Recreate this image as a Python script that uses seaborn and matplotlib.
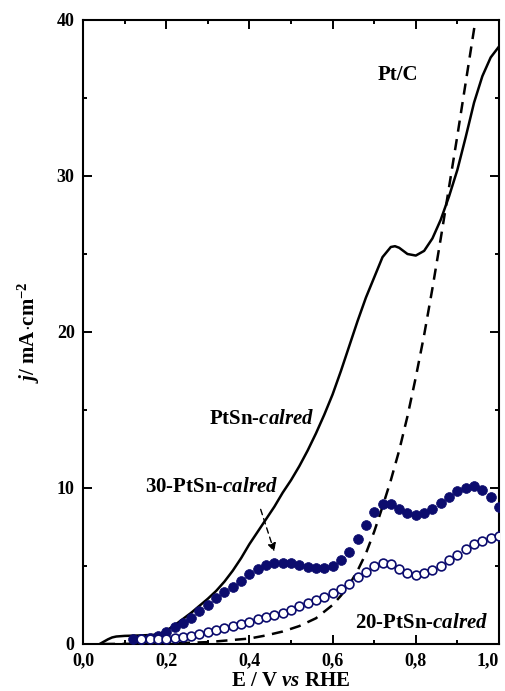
import matplotlib
matplotlib.use("Agg")
import matplotlib.pyplot as plt
from matplotlib.ticker import MultipleLocator, FuncFormatter
import seaborn as sns

# ---- data ----
E_ptsn = [0.04, 0.05, 0.06, 0.07, 0.08, 0.10, 0.14, 0.18, 0.20, 0.22, 0.24, 0.26, 0.28,
          0.30, 0.32, 0.34, 0.36, 0.38, 0.40, 0.42, 0.44, 0.46, 0.48, 0.50, 0.52, 0.54,
          0.56, 0.58, 0.60, 0.62, 0.64, 0.66, 0.68, 0.70, 0.72, 0.74, 0.75, 0.76, 0.78,
          0.80, 0.82, 0.84, 0.86, 0.88, 0.90, 0.92, 0.94, 0.96, 0.98, 1.00]
j_ptsn = [0.0, 0.15, 0.3, 0.42, 0.48, 0.52, 0.55, 0.6, 0.85, 1.2, 1.6, 2.0, 2.45,
          2.9, 3.4, 4.0, 4.7, 5.5, 6.4, 7.2, 8.0, 8.8, 9.7, 10.5, 11.4, 12.4,
          13.5, 14.7, 16.0, 17.5, 19.1, 20.7, 22.2, 23.5, 24.8, 25.45, 25.5, 25.4, 25.0,
          24.9, 25.2, 26.0, 27.2, 28.7, 30.4, 32.5, 34.7, 36.4, 37.6, 38.3]

E_ptc = [0.05, 0.20, 0.30, 0.40, 0.44, 0.48, 0.52, 0.56, 0.60, 0.62, 0.64, 0.66, 0.68,
         0.70, 0.72, 0.74, 0.76, 0.78, 0.80, 0.82, 0.84, 0.86, 0.88, 0.90, 0.92, 0.94,
         0.95]
j_ptc = [0.0, 0.03, 0.12, 0.35, 0.55, 0.8, 1.15, 1.65, 2.5, 3.1, 3.8, 4.7, 5.8,
         7.2, 8.8, 10.5, 12.4, 14.6, 17.1, 19.8, 22.8, 26.0, 29.3, 32.6, 36.0, 39.4,
         41.1]

E_30 = [0.12, 0.14, 0.16, 0.18, 0.20, 0.22, 0.24, 0.26, 0.28, 0.30, 0.32, 0.34, 0.36,
        0.38, 0.40, 0.42, 0.44, 0.46, 0.48, 0.50, 0.52, 0.54, 0.56, 0.58, 0.60, 0.62,
        0.64, 0.66, 0.68, 0.70, 0.72, 0.74, 0.76, 0.78, 0.80, 0.82, 0.84, 0.86, 0.88,
        0.90, 0.92, 0.94, 0.96, 0.98, 1.00]
j_30 = [0.30, 0.32, 0.41, 0.53, 0.79, 1.07, 1.32, 1.69, 2.12, 2.50, 2.93, 3.36, 3.67,
        4.04, 4.47, 4.81, 5.06, 5.17, 5.21, 5.17, 5.06, 4.96, 4.90, 4.90, 5.00, 5.38,
        5.90, 6.70, 7.60, 8.44, 8.95, 8.95, 8.65, 8.37, 8.27, 8.37, 8.63, 9.06, 9.45,
        9.80, 10.0, 10.1, 9.90, 9.45, 8.80]

E_20 = [0.14, 0.16, 0.18, 0.20, 0.22, 0.24, 0.26, 0.28, 0.30, 0.32, 0.34, 0.36, 0.38,
        0.40, 0.42, 0.44, 0.46, 0.48, 0.50, 0.52, 0.54, 0.56, 0.58, 0.60, 0.62, 0.64,
        0.66, 0.68, 0.70, 0.72, 0.74, 0.76, 0.78, 0.80, 0.82, 0.84, 0.86, 0.88, 0.90,
        0.92, 0.94, 0.96, 0.98, 1.00]
j_20 = [0.30, 0.30, 0.30, 0.32, 0.36, 0.43, 0.51, 0.64, 0.77, 0.90, 1.00, 1.15, 1.28,
        1.43, 1.58, 1.71, 1.83, 2.00, 2.20, 2.43, 2.65, 2.82, 3.03, 3.25, 3.53, 3.85,
        4.27, 4.64, 5.00, 5.21, 5.10, 4.79, 4.53, 4.42, 4.53, 4.74, 5.00, 5.38, 5.70,
        6.07, 6.39, 6.60, 6.78, 6.92]

x_ticks = [0.0, 0.2, 0.4, 0.6, 0.8, 1.0]
y_ticks = [0, 10, 20, 30, 40]

# ---- style ----
sns.set_style("ticks")
plt.rcParams['font.family'] = ['Liberation Serif', 'DejaVu Serif']
plt.rcParams['font.weight'] = 'bold'
plt.rcParams['mathtext.fontset'] = 'custom'
plt.rcParams['mathtext.rm'] = 'Liberation Serif:bold'
plt.rcParams['mathtext.it'] = 'Liberation Serif:bold:italic'
plt.rcParams['mathtext.bf'] = 'Liberation Serif:bold'
plt.rcParams['axes.labelcolor'] = 'black'
plt.rcParams['text.color'] = 'black'

navy = "#0c0c6e"

fig = plt.figure(figsize=(5.06, 6.91), dpi=100)
ax = fig.add_axes([83/506, 1 - 644/691, (499-83)/506, (644-20)/691])

sns.lineplot(x=E_ptsn, y=j_ptsn, ax=ax, color="black", linewidth=1.8, sort=False)
sns.lineplot(x=E_ptc, y=j_ptc, ax=ax, color="black", linewidth=1.8, sort=False)
ax.lines[-1].set_dashes([4.5, 3.0])

sns.scatterplot(x=E_30, y=j_30, ax=ax, color=navy, s=50, edgecolor=navy,
                linewidth=0.5, zorder=3)
sns.scatterplot(x=E_20, y=j_20, ax=ax, facecolor="white", s=40, edgecolor=navy,
                linewidth=1.2, zorder=3)

ax.set_xlim(0.0, 1.0)
ax.set_ylim(0, 40)
ax.set_xticks(x_ticks)
ax.set_yticks(y_ticks)
ax.xaxis.set_minor_locator(MultipleLocator(0.1))
ax.yaxis.set_minor_locator(MultipleLocator(5))
ax.xaxis.set_major_formatter(FuncFormatter(lambda v, p: f"{v:.1f}".replace(".", ",")))
ax.tick_params(which="both", direction="in", top=True, right=True, width=1.4,
               labelsize=13, colors="black")
ax.tick_params(which="major", length=6.5)
ax.tick_params(axis="x", which="major", pad=6)
ax.tick_params(axis="y", which="major", pad=6)
ax.tick_params(which="minor", length=3.2)
fig.canvas.draw()
for lab in ax.get_xticklabels() + ax.get_yticklabels():
    lab.set_fontweight("bold")
ax.get_xticklabels()[-1].set_horizontalalignment("right")
for s in ax.spines.values():
    s.set_linewidth(1.5)
    s.set_color("black")

ax.set_xlabel(r"E / V $\mathit{vs}$ RHE", fontsize=15, fontweight="bold",
              labelpad=1, color="black")
ax.set_ylabel(r"$\mathit{j}$/ mA$\cdot$cm$^{-2}$", fontsize=15, fontweight="bold",
              color="black")
ax.yaxis.set_label_coords(-0.098, 0.5)

tk = dict(fontsize=15, fontweight="bold", color="black", va="center", ha="left")
ax.text(0.709, 36.5, "Pt/C", **tk)
ax.text(0.303, 14.4, r"PtSn-$\mathit{calred}$", **tk)
ax.text(0.149, 10.05, r"30-PtSn-$\mathit{calred}$", **tk)
ax.text(0.654, 1.35, r"20-PtSn-$\mathit{calred}$", **tk)

ax.annotate("", xy=(0.462, 5.75), xytext=(0.425, 8.8),
            arrowprops=dict(arrowstyle="-|>", color="black", lw=1.0,
                            linestyle=(0, (4, 3)), mutation_scale=12))

fig.savefig("out.png", dpi=100)
